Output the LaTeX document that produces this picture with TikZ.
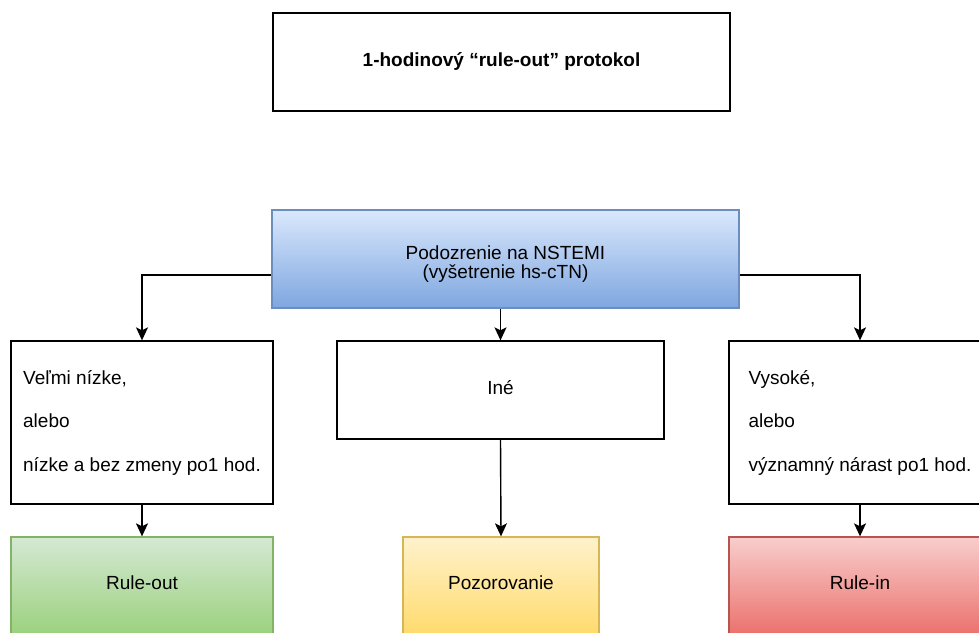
\documentclass[tikz,border=0pt]{standalone}
\usepackage{fontspec}
\setmainfont{Liberation Sans}
\usetikzlibrary{arrows.meta}
\definecolor{bluetop}{HTML}{DAE8FC}
\definecolor{bluebot}{HTML}{7EA6E0}
\definecolor{bluestroke}{HTML}{6C8EBF}
\definecolor{greentop}{HTML}{D5E8D4}
\definecolor{greenbot}{HTML}{97D077}
\definecolor{greenstroke}{HTML}{82B366}
\definecolor{yellowtop}{HTML}{FFF2CC}
\definecolor{yellowbot}{HTML}{FFD966}
\definecolor{yellowstroke}{HTML}{D6B656}
\definecolor{redtop}{HTML}{F8CECC}
\definecolor{redbot}{HTML}{EA6B66}
\definecolor{redstroke}{HTML}{B85450}
\tikzset{
  box/.style={draw=black, line width=1.3pt, inner sep=0pt, font=\fontsize{19}{21.75}\selectfont},
  txt/.style={font=\fontsize{19}{19.5}\selectfont, align=center, inner sep=0pt},
  arr/.style={draw=black, line width=1.4pt, -{Stealth[length=13pt,width=12pt,inset=3pt]}},
}
\begin{document}
\begin{tikzpicture}[x=1pt,y=-1pt]
\useasboundingbox (0,0) rectangle (979,632);
\clip (0,0) rectangle (979,632);
\fill[white] (0,0) rectangle (979,632);
\node[box, minimum width=457pt, minimum height=98pt, font=\fontsize{19}{21.75}\selectfont\bfseries] (title) at (501.5,62) {1-hodinový “rule-out” protokol};
\node[box, draw=bluestroke, top color=bluetop, bottom color=bluebot, minimum width=467pt, minimum height=98pt,
  label={[txt, yshift=-5pt]center:Podozrenie na NSTEMI\\(vyšetrenie hs-cTN)}] (susp) at (505.5,259) {};
\node[box, minimum width=262pt, minimum height=163pt, align=left] (low) at (142,422.5) {Veľmi nízke,\\[21.75pt]alebo\\[21.75pt]nízke a bez zmeny po1 hod.};
\node[box, minimum width=327pt, minimum height=98pt, label={[txt, yshift=2pt]center:Iné}] (other) at (500.5,390) {};
\node[box, minimum width=262pt, minimum height=163pt, align=left] (high) at (860,422.5) {Vysoké,\\[21.75pt]alebo\\[21.75pt]významný nárast po1 hod.};
\node[box, draw=greenstroke, top color=greentop, bottom color=greenbot, minimum width=262pt, minimum height=104pt,
  label={[txt, yshift=6pt]center:Rule-out}] (rout) at (142,589) {};
\node[box, draw=yellowstroke, top color=yellowtop, bottom color=yellowbot, minimum width=196pt, minimum height=104pt,
  label={[txt, yshift=6pt]center:Pozorovanie}] (obs) at (501,589) {};
\node[box, draw=redstroke, top color=redtop, bottom color=redbot, minimum width=262pt, minimum height=104pt,
  label={[txt, yshift=6pt]center:Rule-in}] (rin) at (860,589) {};
\draw[arr] ([yshift=-16pt]susp.west) -| (low.north);
\draw[arr] ([yshift=-16pt]susp.east) -| (high.north);
\draw[arr] (susp.south -| other.north) -- (other.north);
\draw[arr] (low.south) -- (rout.north);
\draw[arr] (other.south) -- (obs.north);
\draw[arr] (high.south) -- (rin.north);
\end{tikzpicture}
\end{document}
